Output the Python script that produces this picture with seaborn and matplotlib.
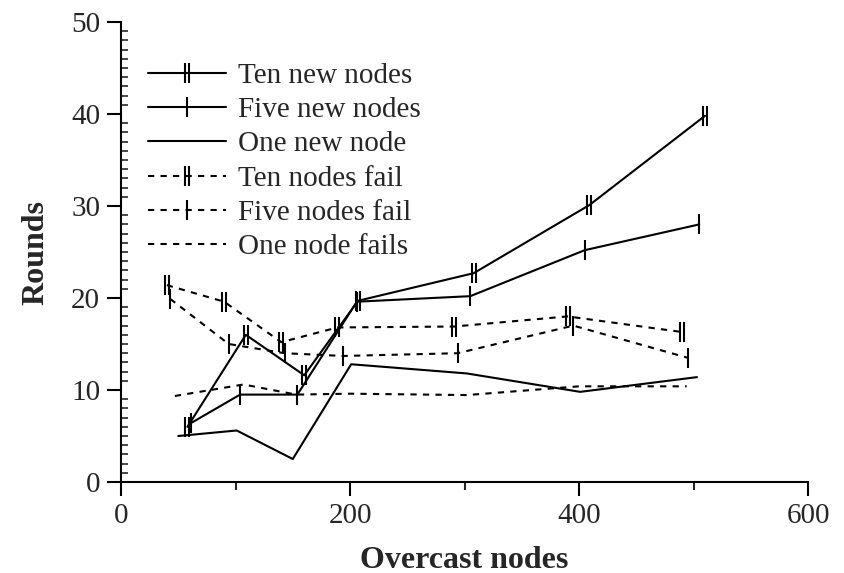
import matplotlib
matplotlib.use("Agg")
import matplotlib.pyplot as plt
import seaborn as sns
import numpy as np
from matplotlib.path import Path
from matplotlib.ticker import MultipleLocator

# values
ten_new_x = [58, 109, 160, 207, 308, 409, 510]
ten_new_y = [6.0, 16.0, 11.6, 19.7, 22.7, 30.1, 39.8]
five_new_x = [61, 104, 154, 206, 305, 405, 505]
five_new_y = [6.4, 9.5, 9.5, 19.6, 20.2, 25.2, 28.0]
one_new_x = [50, 101, 150, 201, 302, 401, 503]
one_new_y = [5.0, 5.6, 2.5, 12.8, 11.8, 9.8, 11.4]
ten_fail_x = [40, 90, 140, 189, 291, 390, 490]
ten_fail_y = [21.4, 19.6, 15.2, 16.8, 16.9, 18.0, 16.3]
five_fail_x = [43, 94, 143, 194, 294, 395, 495]
five_fail_y = [19.9, 15.0, 14.0, 13.7, 14.0, 17.0, 13.5]
one_fail_x = [47, 107, 153, 200, 302, 400, 494]
one_fail_y = [9.35, 10.6, 9.5, 9.6, 9.45, 10.4, 10.4]

labels = ['Ten new nodes', 'Five new nodes', 'One new node',
          'Ten nodes fail', 'Five nodes fail', 'One node fails']

sns.set_style('ticks')
plt.rcParams['font.family'] = ['Liberation Serif', 'DejaVu Serif']
plt.rcParams['font.size'] = 21

# marker shapes: two bars / one bar
two_bars = Path([(-0.2, -1), (-0.2, 1), (0.2, -1), (0.2, 1)],
                [Path.MOVETO, Path.LINETO, Path.MOVETO, Path.LINETO])
one_bar = Path([(0, -1), (0, 1)], [Path.MOVETO, Path.LINETO])

fig = plt.figure(figsize=(8.44, 5.73), dpi=100)
ax = fig.add_axes([0.1434, 0.1588, 0.814, 0.8028])

series = [
    (ten_new_x, ten_new_y, '-', two_bars),
    (five_new_x, five_new_y, '-', one_bar),
    (one_new_x, one_new_y, '-', None),
    (ten_fail_x, ten_fail_y, (0, (3, 3)), two_bars),
    (five_fail_x, five_fail_y, (0, (3, 3)), one_bar),
    (one_fail_x, one_fail_y, (0, (3, 3)), None),
]

for (xs, ys, ls, mk), lab in zip(series, labels):
    kw = {}
    if mk is not None:
        kw = dict(marker=mk, markersize=14, markeredgecolor='black',
                  markeredgewidth=1.5, markerfacecolor='none')
    sns.lineplot(x=xs, y=ys, ax=ax, color='black', linewidth=1.5,
                 linestyle=ls, label=lab, sort=False, **kw)

ax.set_xlim(0, 600)
ax.set_ylim(0, 50)
ax.xaxis.set_major_locator(MultipleLocator(200))
ax.xaxis.set_minor_locator(MultipleLocator(100))
ax.yaxis.set_major_locator(MultipleLocator(10))
ax.yaxis.set_minor_locator(MultipleLocator(1))
ax.tick_params(axis='both', which='major', length=10, width=1.5,
               direction='out', labelsize=21, pad=5, color='black')
ax.tick_params(axis='x', which='minor', length=6, width=1.5, direction='out')
ax.tick_params(axis='y', which='minor', length=5, width=1.2, direction='in')

sns.despine(ax=ax)
for s in ['left', 'bottom']:
    ax.spines[s].set_linewidth(1.5)
    ax.spines[s].set_color('black')

ax.set_xlabel('Overcast nodes', fontsize=23, fontweight='bold', labelpad=12)
ax.set_ylabel('Rounds', fontsize=23, fontweight='bold', labelpad=15)

ax.legend(loc='upper left', bbox_to_anchor=(0.039, 0.912), frameon=False,
          fontsize=21, handlelength=2.67, handletextpad=0.41,
          labelspacing=0.27, borderpad=0, borderaxespad=0)

plt.savefig('out.png', dpi=100)
